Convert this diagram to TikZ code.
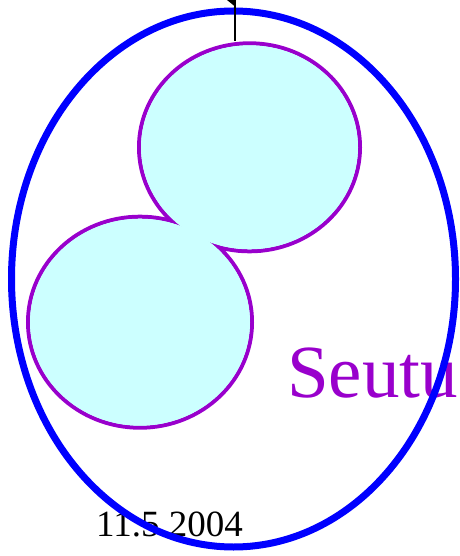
\documentclass[tikz,border=0pt]{standalone}
\usepackage{fontspec}
\setmainfont{Liberation Serif}
\usetikzlibrary{shapes.geometric}
\definecolor{bigblue}{HTML}{0000FF}
\definecolor{cellpurple}{HTML}{9900CC}
\definecolor{cellfill}{HTML}{CCFFFF}
\begin{document}
\begin{tikzpicture}[x=1pt,y=-1pt,
  outer/.style={ellipse,draw=bigblue,line width=7pt,inner sep=0pt,minimum width=444pt,minimum height=536pt},
  cellbox/.style={ellipse,draw=cellpurple,line width=4pt,fill=cellfill,inner sep=0pt},
  bigtext/.style={text=cellpurple,font=\fontsize{75}{80}\selectfont,anchor=base west,inner sep=0pt},
  datetext/.style={text=black,font=\fontsize{37}{40}\selectfont,anchor=base west,inner sep=0pt}]
\useasboundingbox (0,0) rectangle (459,556);
% texts (drawn under the outer ellipse)
\node[bigtext] (seutu) at (287,397) {Seutu};
\node[datetext] (date) at (96,536) {11.5.2004};
% outer region
\node[outer] (region) at (233.5,279) {};
% two cells: outlines first, then fills on top to merge them
\node[cellbox,minimum width=221pt,minimum height=208pt] (up) at (249.5,147.3) {};
\node[cellbox,minimum width=224pt,minimum height=211pt] (lo) at (140,322.2) {};
\fill[cellfill] (up.center) ellipse [x radius=108.5pt,y radius=102pt];
\fill[cellfill] (lo.center) ellipse [x radius=110pt,y radius=103.5pt];
% connector leaving the top
\coordinate (top) at (235,0);
\draw[line width=1.8pt] (top) -- (top |- up.north);
\fill ([xshift=-8pt]top) -- ([xshift=1pt]top) -- ([yshift=-6.5pt]top) -- cycle;
\end{tikzpicture}
\end{document}
